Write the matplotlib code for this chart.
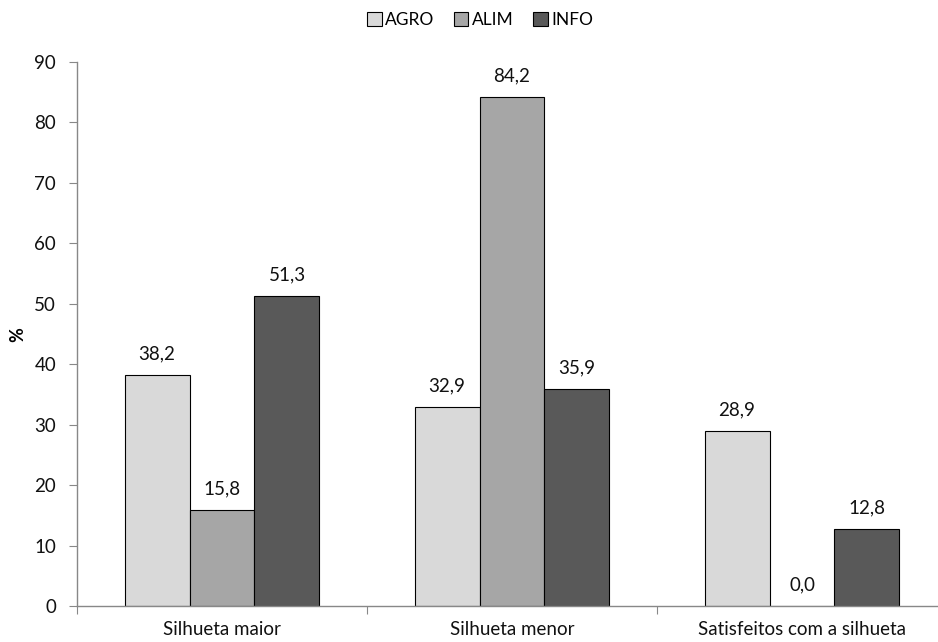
import matplotlib
matplotlib.use("Agg")
import matplotlib.pyplot as plt
import numpy as np
from matplotlib.patches import Patch

categories = ["Silhueta maior", "Silhueta menor", "Satisfeitos com a silhueta"]
series_names = ["AGRO", "ALIM", "INFO"]
agro = [38.2, 32.9, 28.9]
alim = [15.8, 84.2, 0.0]
info = [51.3, 35.9, 12.8]
colors = ["#d9d9d9", "#a6a6a6", "#595959"]

plt.rcParams['font.family'] = ['Lato', 'DejaVu Sans']

fig = plt.figure(figsize=(9.38, 6.42), dpi=100)
W, H = 938, 642
left, right = 77, 947
top, bottom = 62, 606
ax = fig.add_axes([left / W, 1 - bottom / H, (right - left) / W, (bottom - top) / H])

fs = 13.5
x = np.arange(len(categories)) + 0.5
bw = 0.224
for i, (vals, c) in enumerate(zip([agro, alim, info], colors)):
    pos = x + (i - 1) * bw
    ax.bar(pos, vals, width=bw, color=c, edgecolor="#000000", linewidth=0.8, zorder=2)
    for p, v in zip(pos, vals):
        ax.text(p, v + 2.1, f"{v:.1f}".replace(".", ","), ha="center", va="bottom", fontsize=fs, color="#111111")

ax.set_xlim(0, 3)
ax.set_ylim(0, 90)
ax.set_yticks(np.arange(0, 91, 10))
ax.set_xticks([0, 1, 2, 3])
ax.set_xticklabels([])
ax.set_xticks(x, minor=True)
ax.set_xticklabels(categories, minor=True, fontsize=fs, color="#111111")
ax.tick_params(axis="x", which="minor", length=0, pad=11)
ax.tick_params(axis="x", which="major", length=6, color="#888888", direction="out")
ax.tick_params(axis="y", length=6, color="#888888", labelsize=fs, labelcolor="#111111", pad=9)
for s in ["top", "right"]:
    ax.spines[s].set_visible(False)
for s in ["left", "bottom"]:
    ax.spines[s].set_color("#888888")
    ax.spines[s].set_linewidth(1)

fig.text(18 / W, 1 - 335 / H, "%", rotation=90, ha="center", va="center", fontsize=13, fontweight="bold")

handles = [Patch(facecolor=c, edgecolor="#000000", linewidth=0.8, label=n) for c, n in zip(colors, series_names)]
fig.legend(handles=handles, loc="center", bbox_to_anchor=(480 / W, 1 - 20 / H), ncol=3, frameon=False,
           fontsize=12.5, handlelength=0.85, handleheight=0.85, handletextpad=0.2, columnspacing=1.1)

fig.savefig("out.png", dpi=100)
